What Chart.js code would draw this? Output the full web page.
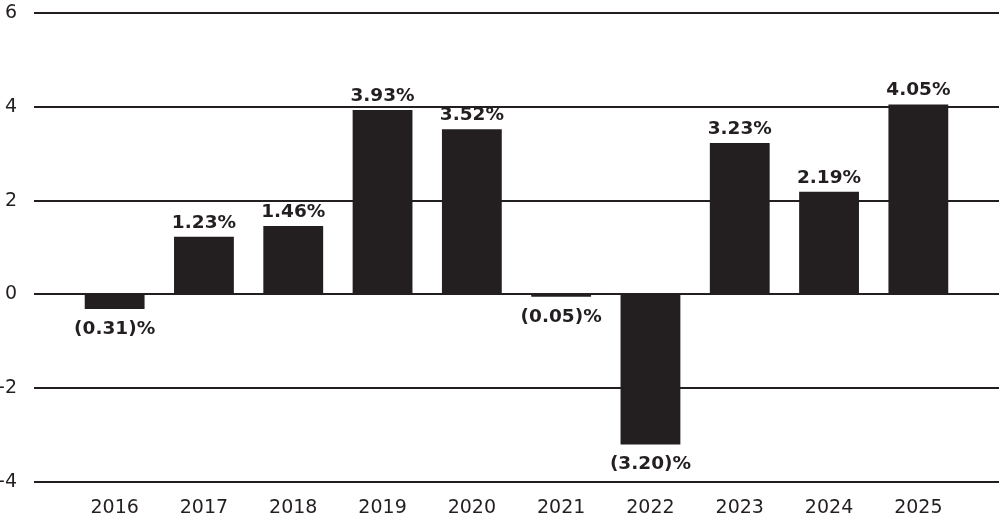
<!DOCTYPE html>
<html>
<head>
<meta charset="utf-8">
<script src="https://cdn.jsdelivr.net/npm/chart.js@4"></script>
<style>
  html, body { margin: 0; padding: 0; background: #fff; }
  #wrap { width: 999px; height: 522px; position: relative; }
</style>
</head>
<body>
<div id="wrap"><canvas id="chart"></canvas></div>
<script>
// ---------- Data ----------
const years = ['2016', '2017', '2018', '2019', '2020', '2021', '2022', '2023', '2024', '2025'];
const returns = [-0.31, 1.23, 1.46, 3.93, 3.52, -0.05, -3.20, 3.23, 2.19, 4.05];
const yTicks = [-4, -2, 0, 2, 4, 6];

const INK = '#231f20';
const FONT = "'DejaVu Sans', sans-serif";

function fmt(v) {
    const s = Math.abs(v).toFixed(2);
    return v < 0 ? '(' + s + ')%' : s + '%';
}

// full-width gridlines (they run past the plot area on both sides)
const gridPlugin = {
    id: 'fullGrid',
    beforeDatasetsDraw(chart) {
        const { ctx, scales: { y } } = chart;
        ctx.save();
        ctx.strokeStyle = INK;
        ctx.lineWidth = 2;
        yTicks.forEach(t => {
            const py = Math.round(y.getPixelForValue(t));
            ctx.beginPath();
            ctx.moveTo(34, py);
            ctx.lineTo(chart.width, py);
            ctx.stroke();
        });
        ctx.restore();
    }
};

// value labels above / below bars
const labelPlugin = {
    id: 'barLabels',
    afterDatasetsDraw(chart) {
        const { ctx } = chart;
        const meta = chart.getDatasetMeta(0);
        ctx.save();
        ctx.fillStyle = INK;
        ctx.font = 'bold 18.5px ' + FONT;
        ctx.textAlign = 'center';
        ctx.textBaseline = 'alphabetic';
        meta.data.forEach((bar, i) => {
            const v = returns[i];
            const y = v >= 0 ? bar.y - 9 : bar.y + 25;
            ctx.fillText(fmt(v), bar.x, y);
        });
        ctx.restore();
    }
};

new Chart(document.getElementById('chart'), {
    type: 'bar',
    data: {
        labels: years,
        datasets: [{
            data: returns,
            backgroundColor: INK,
            borderWidth: 0,
            barPercentage: 0.67,
            categoryPercentage: 1
        }]
    },
    options: {
        responsive: true,
        maintainAspectRatio: false,
        animation: false,
        layout: { padding: { top: 13, right: 36, bottom: 0, left: 0 } },
        plugins: { legend: { display: false }, tooltip: { enabled: false } },
        scales: {
            x: {
                afterFit(scale) { scale.height = 40; },
                grid: { display: false, drawTicks: false },
                border: { display: false },
                ticks: { color: INK, font: { family: FONT, size: 19 }, padding: 15 }
            },
            y: {
                min: -4,
                max: 6,
                afterFit(scale) {
                    scale.width = 70;
                    scale.paddingTop = 0;
                    scale.paddingBottom = 0;
                },
                afterBuildTicks(scale) { scale.ticks = yTicks.map(v => ({ value: v })); },
                grid: { display: false, drawTicks: false },
                border: { display: false },
                ticks: { color: INK, font: { family: FONT, size: 19 }, padding: 53 }
            }
        }
    },
    plugins: [gridPlugin, labelPlugin]
});
</script>
</body>
</html>
